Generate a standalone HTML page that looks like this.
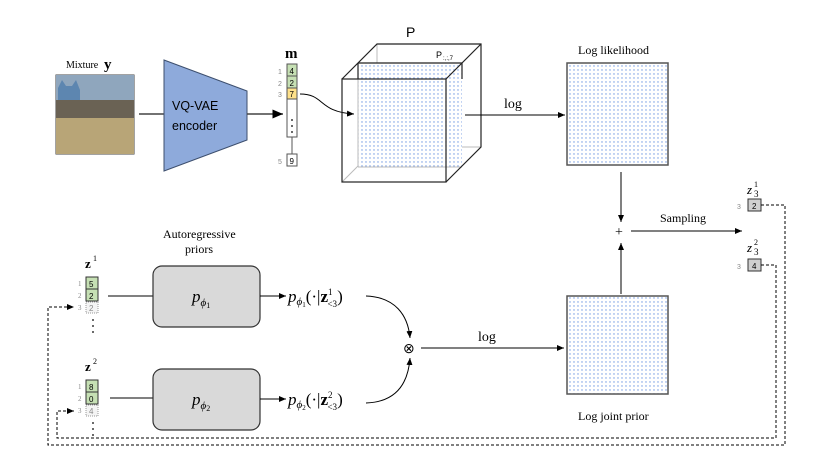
<!DOCTYPE html>
<html><head><meta charset="utf-8"><style>
body{margin:0;background:#fff}
svg{display:block}
text{font-family:"Liberation Serif",serif}
.s{font-family:"Liberation Sans",sans-serif}
</style></head><body>
<svg width="824" height="463" viewBox="0 0 824 463" xmlns="http://www.w3.org/2000/svg">
<defs>
<pattern id="dots" width="4" height="4" patternUnits="userSpaceOnUse"><rect width="4" height="4" fill="#fff"/><circle cx="2" cy="2" r="0.7" fill="#6e97e2"/></pattern>
<marker id="ar" markerWidth="8" markerHeight="8" refX="7" refY="3" orient="auto"><path d="M0,0 L7,3 L0,6 z" fill="#000"/></marker>
</defs>
<!-- mixture -->
<text x="66" y="68" font-size="10">Mixture</text><text x="104" y="69" font-size="15" font-weight="bold">y</text>
<rect x="56" y="75" width="78" height="79" fill="#a99a6e" stroke="#444"/>
<rect x="56" y="75" width="78" height="25" fill="#8fa6bd"/>
<path d="M58,88 L62,80 L66,86 L72,86 L76,80 L80,90 L80,100 L58,100z" fill="#5d86b0"/>
<rect x="56" y="100" width="78" height="18" fill="#6a6254"/>
<rect x="56" y="118" width="78" height="36" fill="#b8a577"/>
<line x1="139" y1="114" x2="164" y2="114" stroke="#444" stroke-width="1.5"/>
<polygon points="164,60 247,91 247,140 164,171" fill="#8eaadb" stroke="#3d4f6e"/>
<text class="s" x="172" y="110" font-size="12.5">VQ-VAE</text>
<text class="s" x="172" y="130" font-size="12.5">encoder</text>
<line x1="247" y1="114" x2="283" y2="114" stroke="#444" stroke-width="1.5" marker-end="url(#ar)"/>
<!-- m -->
<text x="285" y="58" font-size="15" font-weight="bold">m</text>
<rect x="287" y="64" width="10" height="73" fill="#fff" stroke="#555"/>
<rect x="287" y="64" width="10" height="12" fill="#c6e0b4" stroke="#555"/><text class="s" x="289.5" y="74" font-size="8">4</text>
<rect x="287" y="76" width="10" height="12" fill="#c6e0b4" stroke="#555"/><text class="s" x="289.5" y="86" font-size="8">2</text>
<rect x="287" y="88" width="10" height="11" fill="#ffe18a" stroke="#555"/><text class="s" x="289.5" y="97" font-size="8">7</text>
<rect x="287" y="154" width="10" height="12" fill="#fff" stroke="#555"/><text class="s" x="289.5" y="164" font-size="8">9</text>
<line x1="292" y1="137" x2="292" y2="154" stroke="#555"/>
<text class="s" x="278" y="74" font-size="7" fill="#888">1</text><text class="s" x="278" y="86" font-size="7" fill="#888">2</text><text class="s" x="278" y="97" font-size="7" fill="#888">3</text><text class="s" x="278" y="164" font-size="7" fill="#888">5</text>
<g fill="#000"><circle cx="292" cy="120" r="0.9"/><circle cx="292" cy="126" r="0.9"/><circle cx="292" cy="132" r="0.9"/></g>
<path d="M300,94 C325,94 318,112 354,114" fill="none" stroke="#000" marker-end="url(#ar)"/>
<!-- cube -->
<text class="s" x="406" y="37" font-size="14">P</text>
<g stroke="#bbb" fill="none"><line x1="377" y1="44" x2="377" y2="147"/><line x1="377" y1="147" x2="481" y2="147"/><line x1="342" y1="182" x2="377" y2="147"/></g>
<rect x="358" y="63" width="104" height="104" fill="url(#dots)"/>
<g stroke="#bbb" fill="none"><line x1="358" y1="63" x2="358" y2="167"/><line x1="358" y1="167" x2="462" y2="167"/></g>
<g stroke="#222" fill="none" stroke-width="1.2">
<rect x="342" y="79" width="104" height="103"/>
<polyline points="342,79 377,44 481,44 481,147 446,182"/>
<line x1="446" y1="79" x2="481" y2="44"/>
<line x1="358" y1="63" x2="462" y2="63"/><line x1="462" y1="63" x2="462" y2="79"/>
<line x1="358" y1="63" x2="358" y2="79"/>
</g>
<text class="s" x="436" y="58" font-size="9">P</text><text class="s" x="443" y="60" font-size="6">:,:,7</text>
<line x1="465" y1="115" x2="565" y2="115" stroke="#000" marker-end="url(#ar)"/>
<text x="504" y="108" font-size="14">log</text>
<!-- log likelihood -->
<text x="578" y="54" font-size="12">Log likelihood</text>
<rect x="567" y="63" width="101" height="102" fill="url(#dots)" stroke="#555" stroke-width="1.5"/>
<line x1="621" y1="172" x2="621" y2="222" stroke="#000" marker-end="url(#ar)"/>
<text x="615" y="236" font-size="14">+</text>
<line x1="621" y1="294" x2="621" y2="243" stroke="#000" marker-end="url(#ar)"/>
<line x1="631" y1="231" x2="742" y2="231" stroke="#000" marker-end="url(#ar)"/>
<text x="660" y="222" font-size="12">Sampling</text>
<!-- joint prior -->
<rect x="567" y="296" width="101" height="98" fill="url(#dots)" stroke="#555" stroke-width="1.5"/>
<text x="578" y="420" font-size="12">Log joint prior</text>
<!-- z3 -->
<text x="747" y="194" font-size="13" font-style="italic">z</text><text x="754" y="187" font-size="8">1</text><text x="754" y="197" font-size="9">3</text>
<rect x="748" y="199" width="13" height="12" fill="#d0d0d0" stroke="#333"/><text class="s" x="752" y="209" font-size="8">2</text><text class="s" x="737" y="209" font-size="7" fill="#888">3</text>
<text x="747" y="252" font-size="13" font-style="italic">z</text><text x="754" y="245" font-size="8">2</text><text x="754" y="255" font-size="9">3</text>
<rect x="748" y="259" width="13" height="12" fill="#d0d0d0" stroke="#333"/><text class="s" x="752" y="269" font-size="8">4</text><text class="s" x="737" y="269" font-size="7" fill="#888">3</text>
<g fill="none" stroke="#000" stroke-dasharray="3,2">
<polyline points="761,205 785,205 785,445 48,445 48,307 74,307" marker-end="url(#ar)"/>
<polyline points="761,265 776,265 776,438 57,438 57,411 74,411" marker-end="url(#ar)"/>
</g>
<!-- z columns -->
<text x="85" y="268" font-size="13" font-weight="bold">z</text><text x="93" y="261" font-size="8">1</text>
<text x="85" y="371" font-size="13" font-weight="bold">z</text><text x="93" y="364" font-size="8">2</text>
<g class="s" font-size="7" fill="#888"><text x="78" y="286">1</text><text x="78" y="298">2</text><text x="78" y="310">3</text><text x="78" y="389">1</text><text x="78" y="401">2</text><text x="78" y="413">3</text></g>
<rect x="86" y="277" width="12" height="12" fill="#c6e0b4" stroke="#333"/><text class="s" x="89" y="287" font-size="8">5</text>
<rect x="86" y="289" width="12" height="12" fill="#c6e0b4" stroke="#333"/><text class="s" x="89" y="299" font-size="8">2</text>
<rect x="86" y="302" width="12" height="11" fill="#f4f4f4" stroke="#999" stroke-dasharray="1,1"/><text class="s" x="89" y="311" font-size="8" fill="#888">2</text>
<rect x="86" y="380" width="12" height="12" fill="#c6e0b4" stroke="#333"/><text class="s" x="89" y="390" font-size="8">8</text>
<rect x="86" y="392" width="12" height="12" fill="#c6e0b4" stroke="#333"/><text class="s" x="89" y="402" font-size="8">0</text>
<rect x="86" y="405" width="12" height="11" fill="#f4f4f4" stroke="#999" stroke-dasharray="1,1"/><text class="s" x="89" y="414" font-size="8" fill="#888">4</text>
<g fill="#000"><circle cx="93" cy="320" r="0.9"/><circle cx="93" cy="326" r="0.9"/><circle cx="93" cy="332" r="0.9"/><circle cx="93" cy="423" r="0.9"/><circle cx="93" cy="429" r="0.9"/><circle cx="93" cy="435" r="0.9"/></g>
<!-- priors -->
<text x="163" y="238" font-size="12">Autoregressive</text><text x="185" y="253" font-size="12">priors</text>
<line x1="108" y1="296" x2="153" y2="296" stroke="#000"/>
<line x1="110" y1="398" x2="153" y2="398" stroke="#000"/>
<rect x="153" y="266" width="107" height="61" rx="9" fill="#d9d9d9" stroke="#333" stroke-width="1.2"/>
<rect x="153" y="369" width="107" height="61" rx="9" fill="#d9d9d9" stroke="#333" stroke-width="1.2"/>
<text x="192" y="302" font-size="17" font-style="italic">p<tspan font-size="11" dy="4">ϕ</tspan><tspan font-size="8" dy="2" font-style="normal">1</tspan></text>
<text x="192" y="405" font-size="17" font-style="italic">p<tspan font-size="11" dy="4">ϕ</tspan><tspan font-size="8" dy="2" font-style="normal">2</tspan></text>
<line x1="260" y1="296" x2="286" y2="296" stroke="#000" marker-end="url(#ar)"/>
<line x1="260" y1="399" x2="286" y2="399" stroke="#000" marker-end="url(#ar)"/>
<text x="288" y="302" font-size="17"><tspan font-style="italic">p</tspan><tspan font-size="11" dy="3" font-style="italic">ϕ</tspan><tspan font-size="7" dy="2">1</tspan><tspan dy="-5">(·|</tspan><tspan font-weight="bold">z</tspan><tspan font-size="9" dy="-7">1</tspan><tspan font-size="9" dx="-5" dy="12">&lt;3</tspan><tspan dy="-5">)</tspan></text>
<text x="288" y="405" font-size="17"><tspan font-style="italic">p</tspan><tspan font-size="11" dy="3" font-style="italic">ϕ</tspan><tspan font-size="7" dy="2">2</tspan><tspan dy="-5">(·|</tspan><tspan font-weight="bold">z</tspan><tspan font-size="9" dy="-7">2</tspan><tspan font-size="9" dx="-5" dy="12">&lt;3</tspan><tspan dy="-5">)</tspan></text>
<path d="M366,296 C395,297 408,315 410,338" fill="none" stroke="#000" marker-end="url(#ar)"/>
<path d="M366,403 C395,402 408,385 410,358" fill="none" stroke="#000" marker-end="url(#ar)"/>
<text x="403" y="353" font-size="14">⊗</text>
<line x1="421" y1="348" x2="564" y2="348" stroke="#000" marker-end="url(#ar)"/>
<text x="478" y="341" font-size="14">log</text>
</svg>
</body></html>
